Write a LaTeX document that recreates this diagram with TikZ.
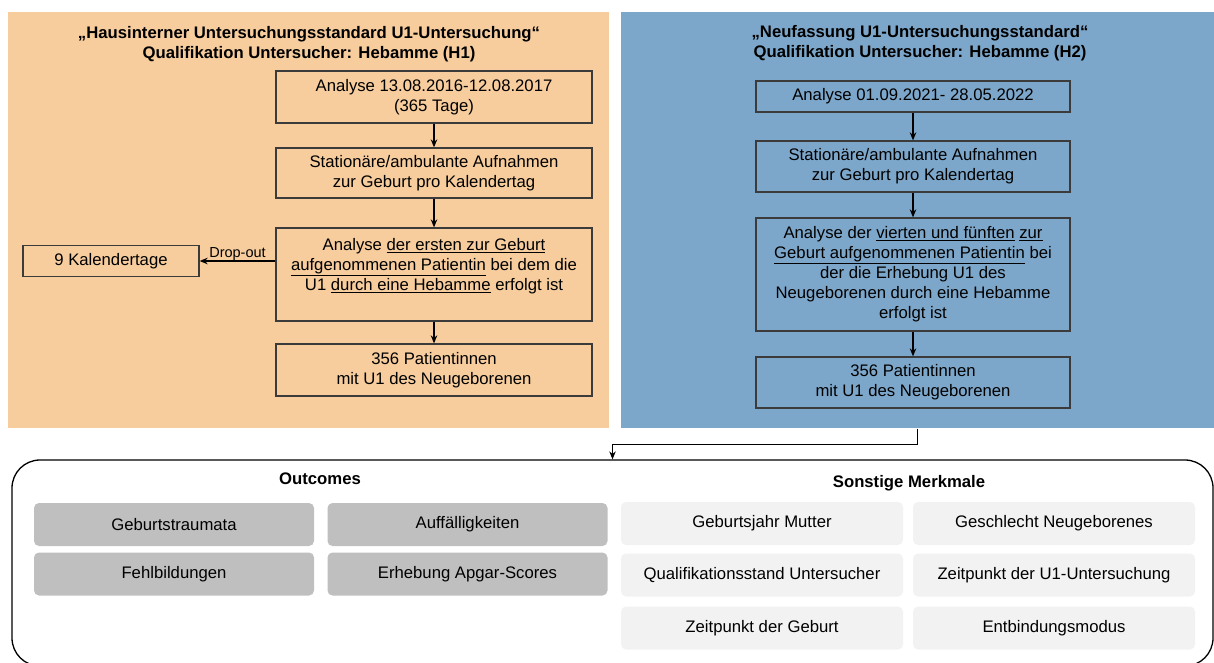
\documentclass[tikz,border=0pt]{standalone}
\usepackage{fontspec}
\setmainfont{Liberation Sans}
\usetikzlibrary{arrows.meta}

\definecolor{hpanelcol}{HTML}{F7CD9E}
\definecolor{npanelcol}{HTML}{7DA7CA}
\definecolor{boxline}{HTML}{3B3B3B}
\definecolor{outgray}{HTML}{BFBFBF}
\definecolor{smgray}{HTML}{F2F2F2}

\tikzset{
  panel/.style={inner sep=0pt,draw=none},
  flowbox/.style={draw=boxline,line width=1.3pt,align=center,inner sep=0pt,minimum width=316pt},
  outbox/.style={fill=outgray,rounded corners=5pt,inner sep=0pt,minimum width=280pt,minimum height=43pt},
  smbox/.style={fill=smgray,rounded corners=5pt,inner sep=0pt,minimum width=282pt,minimum height=43pt},
  ttl/.style={font=\fontsize{16.7}{20}\selectfont\bfseries,align=center,inner sep=0pt}
}

\begin{document}
\begin{tikzpicture}[x=1pt,y=-1pt,line width=1.2pt,>={Stealth[length=8pt,width=6.5pt]},
  font=\fontsize{16.7}{20}\selectfont]
  \useasboundingbox (0,0) rectangle (1214,662);

  % two panels
  \node[panel,fill=hpanelcol,minimum width=601pt,minimum height=416pt] (hpanel) at (308.5,220) {};
  \node[panel,fill=npanelcol,minimum width=593pt,minimum height=416pt] (npanel) at (917.5,220) {};

  \node[ttl] (htitle) at (309,44) {„Hausinterner Untersuchungsstandard U1-Untersuchung“\\Qualifikation Untersucher: Hebamme (H1)};
  \node[ttl] (ntitle) at (920,43) {„Neufassung U1-Untersuchungsstandard“\\Qualifikation Untersucher: Hebamme (H2)};

  % H1 flow
  \node[flowbox,minimum height=52pt] (lb1) at (434,97) {Analyse 13.08.2016-12.08.2017\\(365 Tage)};
  \node[flowbox,minimum height=50pt] (lb2) at (434,173) {Stationäre/ambulante Aufnahmen\\zur Geburt pro Kalendertag};
  \node[flowbox,minimum height=93pt] (lb3) at (434,274.5) {Analyse \underline{der ersten zur Geburt}\\\underline{aufgenommenen Patientin} bei dem die\\U1 \underline{durch eine Hebamme} erfolgt ist\\~};
  \node[flowbox,minimum height=52pt] (lb4) at (434,370) {356 Patientinnen\\mit U1 des Neugeborenen};
  \node[flowbox,minimum width=176pt,minimum height=31pt] (kal) at (111,261) {9 Kalendertage};

  \draw[->] (lb1) -- (lb2);
  \draw[->] (lb2) -- (lb3);
  \draw[->] (lb3) -- (lb4);
  \draw[->] (kal.east -| lb3.west) -- (kal.east) node[midway,above=-3pt,font=\fontsize{14.5}{17}\selectfont] {Drop-out};

  % H2 flow
  \node[flowbox,minimum width=314pt,minimum height=31pt] (rb1) at (913,96.5) {Analyse 01.09.2021- 28.05.2022};
  \node[flowbox,minimum width=314pt,minimum height=51pt] (rb2) at (913,166.5) {Stationäre/ambulante Aufnahmen\\zur Geburt pro Kalendertag};
  \node[flowbox,minimum width=314pt,minimum height=113pt] (rb3) at (913,274.5) {Analyse der \underline{vierten und fünften} \underline{zur}\\\underline{Geburt aufgenommenen Patientin} bei\\der die Erhebung U1 des\\Neugeborenen durch eine Hebamme\\erfolgt ist};
  \node[flowbox,minimum width=314pt,minimum height=51pt] (rb4) at (913,382.5) {356 Patientinnen\\mit U1 des Neugeborenen};

  \draw[->] (rb1) -- (rb2);
  \draw[->] (rb2) -- (rb3);
  \draw[->] (rb3) -- (rb4);

  % merkmale
  \node[draw=black,line width=1.3pt,rounded corners=28pt,inner sep=0pt,minimum width=1201pt,minimum height=206pt] (merk) at (612.5,563) {};
  \draw[->] (npanel.south) -- ++(0,16) -| (merk.north);

  \node[ttl] (outt) at (320,479) {Outcomes};
  \node[ttl] (smt) at (909,483) {Sonstige Merkmale};

  \node[outbox] (o1) at (174,524.5) {Geburtstraumata};
  \node[outbox] (o2) at (467.5,524.5) {Auffälligkeiten};
  \node[outbox] (o3) at (174,574) {Fehlbildungen};
  \node[outbox] (o4) at (467.5,574) {Erhebung Apgar-Scores};

  \node[smbox] (s1) at (762,523.5) {Geburtsjahr Mutter};
  \node[smbox] (s2) at (1054,523.5) {Geschlecht Neugeborenes};
  \node[smbox] (s3) at (762,575) {Qualifikationsstand Untersucher};
  \node[smbox] (s4) at (1054,575) {Zeitpunkt der U1-Untersuchung};
  \node[smbox] (s5) at (762,628) {Zeitpunkt der Geburt};
  \node[smbox] (s6) at (1054,628) {Entbindungsmodus};
\end{tikzpicture}
\end{document}
